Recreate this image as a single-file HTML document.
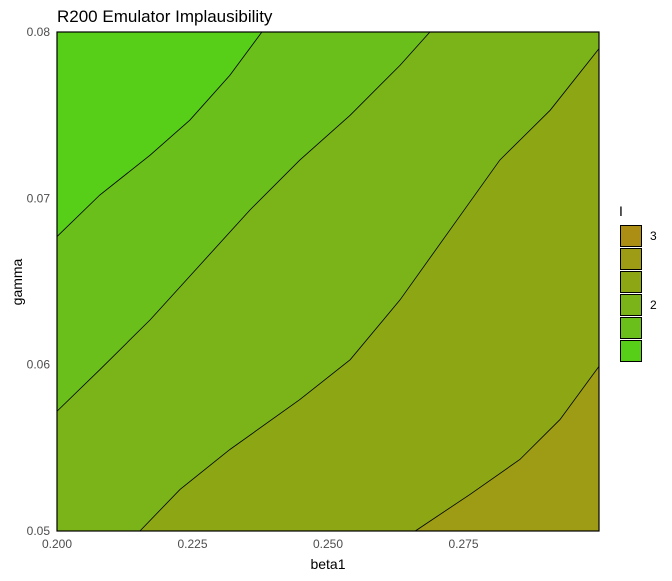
<!DOCTYPE html>
<html><head><meta charset="utf-8"><style>
body{margin:0;background:#fff;}
svg text{font-family:"Liberation Sans",Arial,sans-serif;}
</style></head><body>
<svg id="chart" width="672" height="576" xmlns="http://www.w3.org/2000/svg">
<text x="57" y="22" font-size="17" fill="#000">R200 Emulator Implausibility</text>
<g id="panel"></g>
<g id="axes"></g>
<text x="328" y="569" font-size="14" text-anchor="middle" fill="#000">beta1</text>
<text x="0" y="0" font-size="14" text-anchor="middle" fill="#000" transform="translate(22,282) rotate(-90)">gamma</text>
<g id="legend"></g>
</svg>
<script>
const xTicks=[0.2,0.225,0.25,0.275];
const xTickLabels=["0.200","0.225","0.250","0.275"];
const yTicks=[0.05,0.06,0.07,0.08];
const yTickLabels=["0.05","0.06","0.07","0.08"];
const levelColors=["#57CE17","#6BBF1A","#7BB418","#8CA713","#9E9B14","#AD8E14"];
const contour1=[[0.2,0.0677],[0.2079,0.0702],[0.2172,0.0726],[0.2245,0.0747],[0.2319,0.0774],[0.2378,0.08]];
const contour2=[[0.2,0.0572],[0.2079,0.0597],[0.2172,0.0627],[0.2264,0.0660],[0.2356,0.0693],[0.2448,0.0723],[0.2541,0.0750],[0.2633,0.0780],[0.2688,0.08]];
const contour3=[[0.2153,0.05],[0.2227,0.0525],[0.2319,0.0549],[0.2448,0.0579],[0.2541,0.0603],[0.2633,0.0639],[0.2725,0.0681],[0.2817,0.0723],[0.2910,0.0753],[0.3,0.0790]];
const contour4=[[0.2661,0.05],[0.2762,0.0522],[0.2854,0.0543],[0.2928,0.0567],[0.3,0.0599]];
const legendLabels=["3","","","2","",""];
const contours=[contour1,contour2,contour3,contour4];
const X0=0.2,X1=0.3,Y0=0.05,Y1=0.08;
const px0=57,px1=599,py0=531,py1=32;
const sx=v=>px0+(v-X0)/(X1-X0)*(px1-px0);
const sy=v=>py0-(v-Y0)/(Y1-Y0)*(py0-py1);
const NS="http://www.w3.org/2000/svg";
function mk(tag,attrs,parent){const e=document.createElementNS(NS,tag);for(const k in attrs)e.setAttribute(k,attrs[k]);parent.appendChild(e);return e;}
const panel=document.getElementById('panel');
const bg=mk('rect',{x:px0,y:py1,width:px1-px0,height:py0-py1,fill:levelColors[0]},panel);


contours.forEach((c,i)=>{
  const pts=c.slice();
  const end=c[c.length-1],start=c[0];
  if(end[1]>=Y1){pts.push([X1,Y1]);}
  pts.push([X1,Y0]);
  if(start[0]<=X0){pts.push([X0,Y0]);}
  const poly=mk('polygon',{points:pts.map(p=>sx(p[0])+','+sy(p[1])).join(' '),fill:levelColors[i+1]},panel);
  
  
});
contours.forEach((c,i)=>{
  const l=mk('polyline',{points:c.map(p=>sx(p[0])+','+sy(p[1])).join(' '),fill:'none',stroke:'#000','stroke-width':0.8},panel);
  
  
});
const border=mk('rect',{x:px0,y:py1,width:px1-px0,height:py0-py1,fill:'none',stroke:'#000','stroke-width':1.2},panel);


const axes=document.getElementById('axes');
xTicks.forEach((v,i)=>{
  const t=mk('text',{x:sx(v),y:py0+17,'font-size':12,fill:'#4d4d4d','text-anchor':'middle'},axes);
  t.textContent=xTickLabels[i];
  
  
});
yTicks.forEach((v,i)=>{
  const t=mk('text',{x:px0-7,y:sy(v)+4,'font-size':12,fill:'#4d4d4d','text-anchor':'end'},axes);
  t.textContent=yTickLabels[i];
  
  
});
const lg=document.getElementById('legend');
const lt=mk('text',{x:619,y:216,'font-size':14,fill:'#000'},lg);
lt.textContent='I';


for(let i=0;i<6;i++){
  const y=225+i*23;
  const r=mk('rect',{x:620.5,y:y+0.5,width:21,height:21,fill:levelColors[5-i],stroke:'#000','stroke-width':1},lg);
  
  
  if(legendLabels[i]){
    const t=mk('text',{x:650,y:y+15,'font-size':12,fill:'#000'},lg);
    t.textContent=legendLabels[i];
    
    
  }
}
</script>
</body></html>
